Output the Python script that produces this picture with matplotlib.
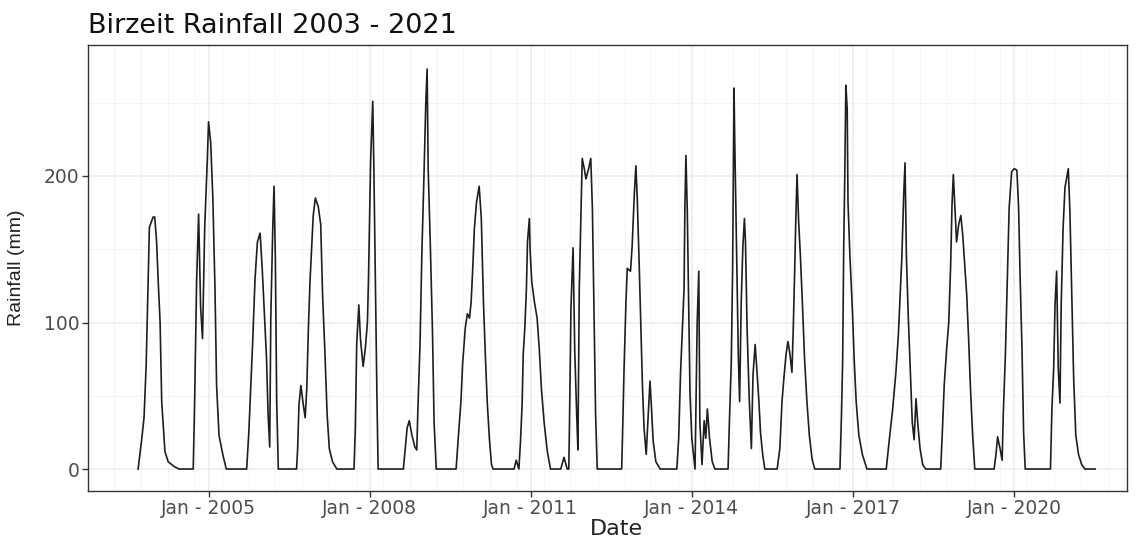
import matplotlib
matplotlib.use("Agg")
import matplotlib.pyplot as plt
import pandas as pd

# Rainfall (mm), x as decimal year
year_frac = [
    2003.69, 2003.756, 2003.80, 2003.84, 2003.88, 2003.90, 2003.97, 2004.00, 2004.035, 2004.065,
    2004.10, 2004.13, 2004.19, 2004.25, 2004.35, 2004.45, 2004.66,
    2004.717, 2004.743, 2004.78, 2004.817, 2004.855, 2004.89, 2004.93, 2004.98, 2005.00, 2005.04,
    2005.08, 2005.12, 2005.15, 2005.195, 2005.265, 2005.33, 2005.68,
    2005.71, 2005.75, 2005.786, 2005.82, 2005.866, 2005.91, 2005.96, 2006.00, 2006.04, 2006.08,
    2006.11, 2006.14, 2006.16, 2006.195, 2006.22, 2006.245, 2006.27, 2006.30,
    2006.64, 2006.66, 2006.685, 2006.72, 2006.765, 2006.80, 2006.83, 2006.86, 2006.89, 2006.92,
    2006.95, 2006.99, 2007.045, 2007.09, 2007.125, 2007.17, 2007.21, 2007.25, 2007.31, 2007.39, 2007.70,
    2007.71, 2007.735, 2007.76, 2007.80, 2007.83, 2007.88, 2007.92, 2007.96, 2007.98, 2008.02,
    2008.06, 2008.08, 2008.11, 2008.14, 2008.16, 2008.63,
    2008.665, 2008.70, 2008.74, 2008.79, 2008.845, 2008.88, 2008.90, 2008.94, 2008.975, 2009.01,
    2009.045, 2009.07, 2009.09, 2009.13, 2009.17, 2009.20, 2009.24, 2009.61,
    2009.65, 2009.70, 2009.73, 2009.78, 2009.82, 2009.86, 2009.89, 2009.92, 2009.95, 2009.99,
    2010.04, 2010.08, 2010.12, 2010.155, 2010.19, 2010.23, 2010.27, 2010.30, 2010.69,
    2010.73, 2010.78, 2010.81, 2010.84, 2010.86, 2010.89, 2010.92, 2010.94, 2010.975, 2010.99,
    2011.02, 2011.07, 2011.12, 2011.16, 2011.20, 2011.25, 2011.31, 2011.37, 2011.56, 2011.62, 2011.68,
    2011.71, 2011.725, 2011.75, 2011.79, 2011.82, 2011.857, 2011.88, 2011.905, 2011.93, 2011.96,
    2011.998, 2012.03, 2012.08, 2012.12, 2012.15, 2012.18, 2012.21, 2012.24, 2012.695,
    2012.71, 2012.74, 2012.775, 2012.80, 2012.86, 2012.89, 2012.93, 2012.96, 2012.985, 2013.02,
    2013.05, 2013.08, 2013.11, 2013.15, 2013.18, 2013.22, 2013.245, 2013.28, 2013.33, 2013.41, 2013.705,
    2013.72, 2013.755, 2013.79, 2013.83, 2013.855, 2013.87, 2013.89, 2013.915, 2013.94, 2013.966,
    2014.00, 2014.06, 2014.10, 2014.13, 2014.15, 2014.19, 2014.23, 2014.26, 2014.29, 2014.33,
    2014.38, 2014.43, 2014.66,
    2014.675, 2014.70, 2014.735, 2014.76, 2014.786, 2014.80, 2014.836, 2014.866, 2014.89, 2014.92,
    2014.95, 2014.98, 2015.00, 2015.03, 2015.07, 2015.11, 2015.14, 2015.18, 2015.21, 2015.25,
    2015.28, 2015.32, 2015.36, 2015.59,
    2015.64, 2015.68, 2015.72, 2015.755, 2015.79, 2015.83, 2015.865, 2015.89, 2015.92, 2015.935,
    2015.96, 2015.99, 2016.02, 2016.06, 2016.10, 2016.145, 2016.19, 2016.24, 2016.29, 2016.76,
    2016.785, 2016.81, 2016.83, 2016.85, 2016.87, 2016.895, 2016.91, 2016.945, 2016.99, 2017.025,
    2017.06, 2017.11, 2017.175, 2017.26, 2017.62,
    2017.68, 2017.74, 2017.80, 2017.845, 2017.88, 2017.91, 2017.945, 2017.97, 2017.995, 2018.03,
    2018.07, 2018.105, 2018.14, 2018.175, 2018.21, 2018.25, 2018.30, 2018.355, 2018.635,
    2018.665, 2018.70, 2018.745, 2018.785, 2018.82, 2018.845, 2018.87, 2018.895, 2018.93, 2018.97,
    2019.01, 2019.045, 2019.08, 2019.12, 2019.155, 2019.19, 2019.23, 2019.27, 2019.63,
    2019.665, 2019.695, 2019.74, 2019.78, 2019.80, 2019.84, 2019.875, 2019.91, 2019.957, 2020.005,
    2020.055, 2020.087, 2020.117, 2020.15, 2020.18, 2020.21, 2020.68,
    2020.707, 2020.74, 2020.765, 2020.795, 2020.825, 2020.857, 2020.88, 2020.915, 2020.95, 2021.01,
    2021.04, 2021.075, 2021.11, 2021.15, 2021.20, 2021.26, 2021.32, 2021.51,
]
rain_mm = [
    0, 20, 35, 71, 135, 165, 172, 172, 155, 128,
    100, 46, 12, 5, 2, 0, 0,
    0, 46, 128, 174, 110, 89, 164, 212, 237, 223,
    185, 123, 57, 23, 10, 0, 0,
    0, 25, 55, 85, 130, 155, 161, 137, 107, 76,
    37, 15, 103, 162, 193, 143, 46, 0,
    0, 14, 44, 57, 44, 35, 55, 96, 128, 151,
    173, 185, 179, 167, 119, 78, 37, 14, 5, 0, 0,
    0, 28, 85, 112, 89, 70, 82, 100, 130, 210,
    251, 207, 126, 44, 0, 0,
    14, 28, 33, 23, 15, 13, 40, 85, 148, 198,
    249, 273, 205, 153, 94, 32, 0, 0,
    21, 46, 71, 96, 106, 103, 114, 137, 164, 182,
    193, 171, 114, 78, 46, 21, 3, 0, 0,
    6, 0, 19, 44, 78, 96, 123, 155, 171, 148,
    128, 114, 103, 82, 55, 32, 12, 0, 0, 8, 0,
    0, 37, 110, 151, 82, 37, 13, 123, 164, 212,
    205, 198, 205, 212, 178, 107, 37, 0, 0,
    21, 69, 114, 137, 135, 152, 187, 207, 185, 139,
    98, 57, 28, 10, 32, 60, 44, 19, 5, 0, 0,
    0, 21, 66, 100, 123, 178, 214, 176, 114, 51,
    21, 0, 100, 135, 32, 3, 33, 21, 41, 21,
    5, 0, 0,
    0, 32, 73, 137, 260, 223, 146, 78, 46, 114,
    151, 171, 155, 96, 48, 14, 64, 85, 69, 46,
    25, 10, 0, 0,
    14, 46, 64, 78, 87, 78, 66, 96, 141, 167,
    201, 169, 148, 114, 76, 46, 23, 7, 0, 0,
    32, 73, 151, 201, 262, 246, 182, 146, 110, 73,
    46, 23, 10, 0, 0,
    21, 41, 66, 91, 119, 144, 187, 209, 146, 105,
    66, 32, 20, 48, 30, 14, 3, 0, 0,
    25, 57, 82, 100, 139, 180, 201, 182, 155, 167,
    173, 160, 141, 119, 89, 55, 23, 0, 0,
    10, 22, 14, 6, 37, 78, 128, 178, 203, 205,
    204, 178, 128, 82, 25, 0, 0,
    41, 69, 112, 135, 69, 45, 112, 164, 192, 205,
    176, 119, 62, 23, 10, 3, 0, 0,
]
tick_years = [2005, 2008, 2011, 2014, 2017, 2020]


def to_date(y):
    yr = int(y)
    return pd.Timestamp(f"{yr}-01-01") + pd.Timedelta(days=(y - yr) * 365.25)


def draw_plot():
    # the reference text is a bit wide, DejaVu Sans gets the widths closer
    plt.rcParams['font.family'] = ['DejaVu Sans']
    dates = [to_date(y) for y in year_frac]

    fig = plt.figure(figsize=(11.38, 5.42), dpi=100)
    ax = fig.add_axes([88 / 1138, 1 - 491 / 542, (1127 - 88) / 1138, (491 - 45) / 542])

    # grid like ggplot theme_bw
    major_x = [pd.Timestamp(f"{y}-01-01") for y in tick_years]
    minor_x = []
    for y in range(2002, 2023):
        minor_x.append(pd.Timestamp(f"{y}-04-01"))
        minor_x.append(pd.Timestamp(f"{y}-10-01"))
    ax.set_xticks(major_x)
    ax.set_xticks(minor_x, minor=True)
    ax.set_xticklabels([f"Jan - {y}" for y in tick_years])
    ax.set_yticks([0, 100, 200])
    ax.set_yticks([50, 150, 250], minor=True)
    ax.grid(True, which='major', color='#ebebeb', linewidth=1.1)
    ax.grid(True, which='minor', color='#f2f2f2', linewidth=0.6)
    ax.set_axisbelow(True)

    ax.plot(dates, rain_mm, color='#1e1e1e', linewidth=1.2)

    ax.set_xlim(to_date(2002.756), to_date(2022.104))
    ax.set_ylim(-15, 289.4)

    for s in ax.spines.values():
        s.set_color('#333333')
        s.set_linewidth(1.0)
    ax.tick_params(which='major', length=4, width=1, color='#333333',
                   labelcolor='#4d4d4d', labelsize=13.5, pad=2)
    ax.tick_params(which='minor', length=0)

    ax.set_xlabel('Date', fontsize=16, color='#222222')
    ax.xaxis.set_label_coords((616 - 88) / 1039, -0.062)
    ax.set_ylabel('Rainfall (mm)', fontsize=14, color='#222222', labelpad=14,
                  family='Liberation Sans')
    fig.text(88 / 1138, 1 - 33 / 542, 'Birzeit Rainfall 2003 - 2021',
             fontsize=19.5, color='#111111', ha='left', va='baseline')

    fig.savefig('out.png', dpi=100)
    plt.close(fig)


if __name__ == "__main__":
    draw_plot()
